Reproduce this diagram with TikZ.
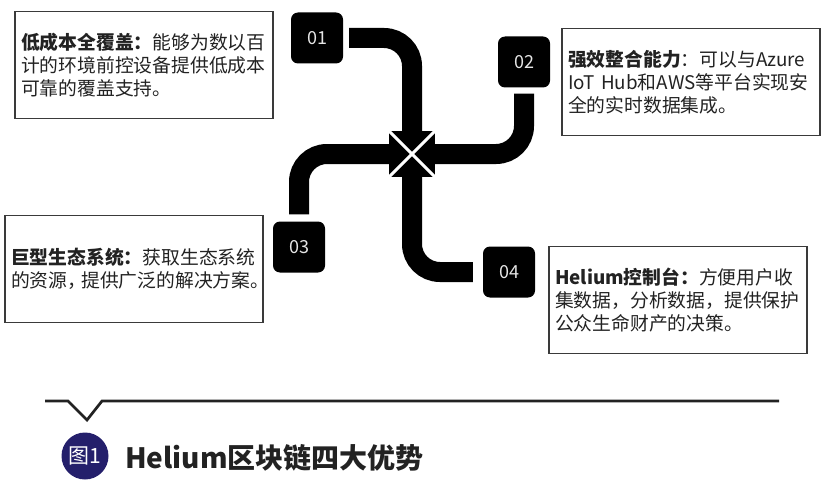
\documentclass[tikz,border=0pt]{standalone}
\usepackage{fontspec}
\setmainfont{Noto Sans CJK SC}
\usetikzlibrary{positioning}

\definecolor{inkgray}{HTML}{222222}
\definecolor{boxgray}{HTML}{3A3A3A}
\definecolor{navy}{HTML}{241F6B}

\begin{document}
\begin{tikzpicture}[x=1pt, y=-1pt,
		numbox/.style={fill=black, rounded corners=7pt, minimum width=52pt, minimum height=51pt, inner sep=0pt, text=white!90!black, font=\fontsize{18}{18}\selectfont},
		pipe/.style={line width=20pt, rounded corners=28pt},
		infobox/.style={draw=boxgray, line width=1.5pt, minimum width=258pt, minimum height=107pt, text width=246pt, inner xsep=6pt, align=left, text=inkgray, font=\fontsize{18.8}{23}\selectfont}]
		\useasboundingbox (0,0) rectangle (832,484);
		
		% Number boxes
		\node[numbox] (n01) at (317,38) {01};
		\node[numbox] (n02) at (524,62) {02};
		\node[numbox] (n03) at (299,247) {03};
		\node[numbox] (n04) at (509,272) {04};
		
		% Crossing
		\coordinate (hubc) at (412,154);
		
		% Pipes
		\draw[pipe, shorten <=6pt] (n01.east) -| ([yshift=23pt]hubc);
		\draw[pipe, shorten <=6pt] (n02.south) |- ([xshift=23pt]hubc);
		\draw[pipe, shorten <=7pt] (n03.north) |- ([xshift=-23pt]hubc);
		\draw[pipe, shorten <=10pt] (n04.west) -| ([yshift=-23pt]hubc);
		
		\node[fill=black, minimum size=46pt, inner sep=0pt] (hub) at (hubc) {};
		\draw[white, line width=3pt, shorten <=-1pt, shorten >=-1pt] (hub.north west) -- (hub.south east);
		\draw[white, line width=3pt, shorten <=-1pt, shorten >=-1pt] (hub.north east) -- (hub.south west);
		
		% Text boxes
		\node[infobox] (b1) at (144,65) {\textbf{低成本全覆盖：}能够为数以百\\计的环境前控设备提供低成本\\可靠的覆盖支持。};
		\node[infobox] (b2) at (691,82) {\textbf{强效整合能力}：可以与Azure\\IoT Hub和AWS等平台实现安\\全的实时数据集成。};
		\node[infobox] (b3) at (134,269) {\textbf{巨型生态系统：}获取生态系统\\的资源，\kern-5pt 提供广泛的解决方案{\addfontfeature{RawFeature=+palt}。}};
		\node[infobox] (b4) at (678,300) {\textbf{Helium控制台：}方便用户收\\集数据，分析数据，提供保护\\公众生命财产的决策。};
		
		% Caption
		\draw[inkgray, line width=2.7pt] (45,401) -- (68,401) -- (87,420) -- (102,401) -- (779,401);
		\node[circle, fill=navy, minimum size=47pt, inner sep=0pt, text=white, font=\fontsize{21}{21}\selectfont] (fig) at (85,456) {图1};
		\node[anchor=west, inner sep=0pt, text=inkgray, font=\bfseries\fontsize{28}{28}\selectfont] (title) at (125,458) {Helium区块链四大优势};
	\end{tikzpicture}
\end{document}
